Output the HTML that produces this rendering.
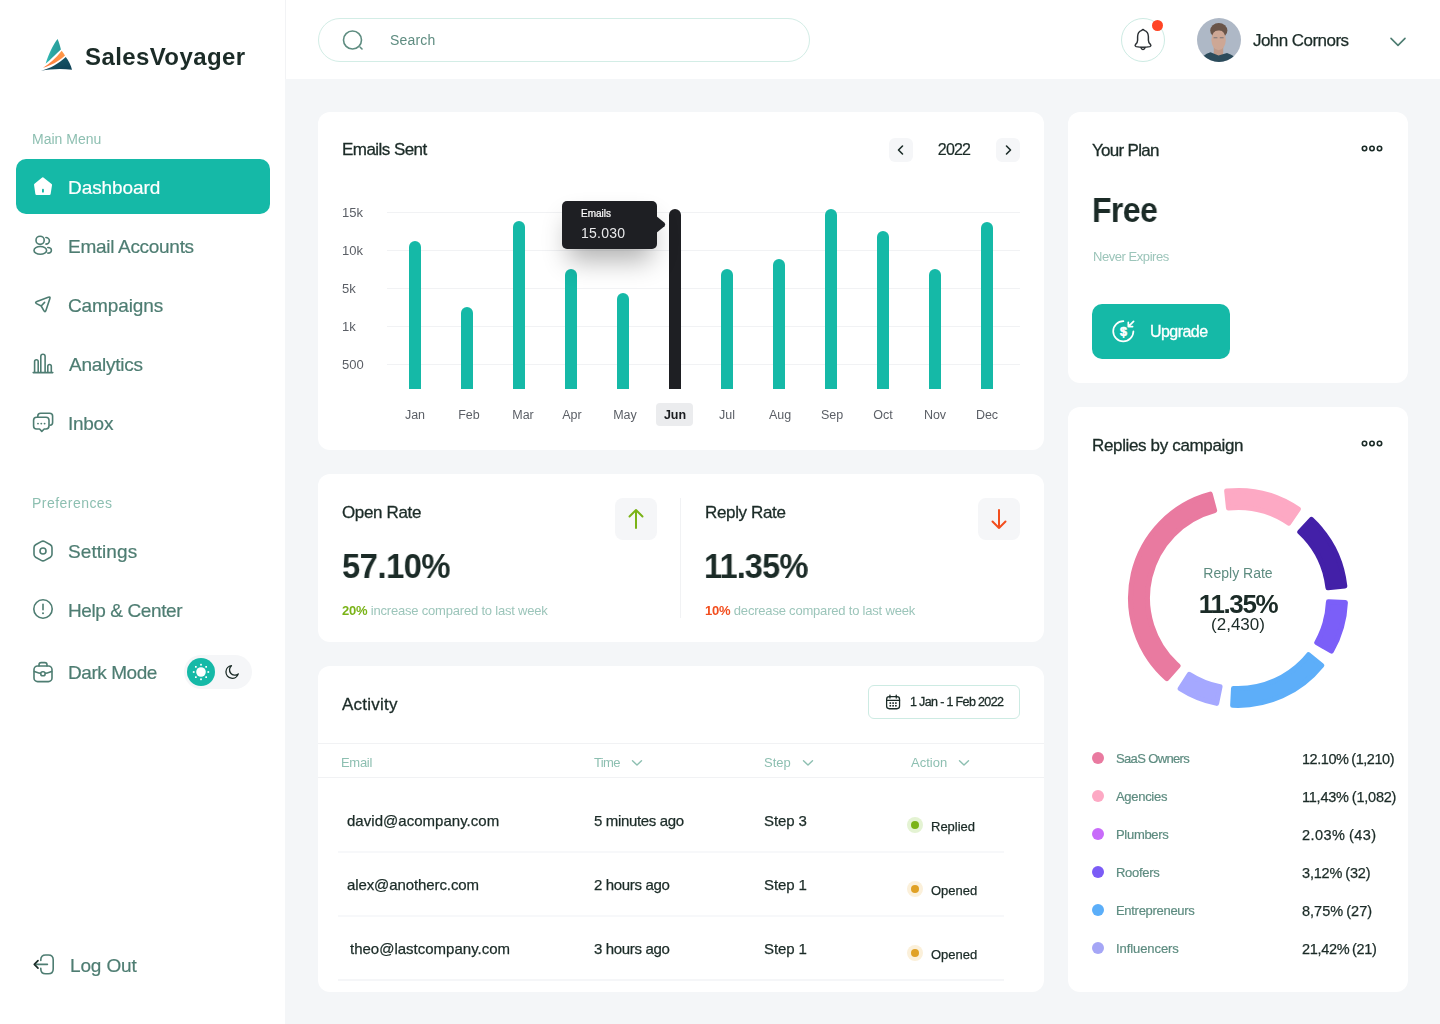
<!DOCTYPE html>
<html><head><meta charset="utf-8">
<style>
*{box-sizing:border-box;margin:0;padding:0}
html,body{width:1440px;height:1024px;overflow:hidden}
.t{will-change:transform}
body{font-family:"Liberation Sans",sans-serif;background:#F4F6F8;position:relative;color:#1B2B27}
.abs{position:absolute}
.sidebar{position:absolute;left:0;top:0;width:285px;height:1024px;background:#fff}
.header{position:absolute;left:285px;top:0;width:1155px;height:79px;background:#fff;border-left:1px solid #F2F3F5}
.card{position:absolute;background:#fff;border-radius:12px}
.t{position:absolute;white-space:nowrap;line-height:1}
.nav{color:#4E7D72;font-size:19px;-webkit-text-stroke:0.2px currentColor}
.axl{color:#5B5F66;font-size:13px}
.axm{color:#5B5F66;font-size:12.5px}
.ttl{font-size:17px;color:#1B2B27;-webkit-text-stroke:0.3px #1B2B27;letter-spacing:-0.35px}
.big{font-size:34.5px;font-weight:bold;color:#1B2B27;letter-spacing:-0.35px}
.sub{font-size:13px;color:#9CC5BA;letter-spacing:-0.2px}
.th{font-size:13px;color:#8DBFB1}
.td{font-size:15px;color:#1B2B27;-webkit-text-stroke:0.25px #1B2B27;letter-spacing:-0.1px}
.td2{font-size:13px;color:#1B2B27;-webkit-text-stroke:0.25px #1B2B27}
.lg{font-size:13px;color:#5E8C80;letter-spacing:-0.3px;-webkit-text-stroke:0.2px #5E8C80}
.lv{font-size:14.5px;letter-spacing:-0.45px;word-spacing:-0.8px;color:#1B2B27;-webkit-text-stroke:0.25px #1B2B27}
.lbl{color:#8DBFB1;font-size:14px}
</style></head>
<body>
<!-- SIDEBAR -->
<div class="sidebar">
  <!-- logo -->
  <svg class="abs" style="left:30px;top:30px" width="50" height="50" viewBox="0 0 50 50">
    <defs>
      <linearGradient id="lg1" x1="0" y1="0" x2="1" y2="0.3"><stop offset="0" stop-color="#3FD3CC"/><stop offset="0.55" stop-color="#2AA6A2"/><stop offset="1" stop-color="#2A9C9A"/></linearGradient>
      <linearGradient id="lg2" x1="0" y1="1" x2="1" y2="0"><stop offset="0" stop-color="#FF7A3D"/><stop offset="1" stop-color="#FF9C4A"/></linearGradient>
      <linearGradient id="lg3" x1="0" y1="0" x2="0.4" y2="1"><stop offset="0" stop-color="#1F7480"/><stop offset="0.45" stop-color="#145062"/><stop offset="1" stop-color="#104458"/></linearGradient>
    </defs>
    <path d="M27.6 9 C23.5 14 19 23 15.6 33.8 C20.5 29.5 26 24 30.9 19.4 C30 15.5 28.8 12 27.6 9 Z" fill="url(#lg1)"/>
    <path d="M13 37.8 C19.5 34 26 28 31.7 20.8 C33 22.5 34.2 24 35 25.6 C28.5 31.5 20.5 36 13 37.8 Z" fill="url(#lg2)"/>
    <path d="M11 40.8 C20 38.5 29 33.5 35.8 27 C38.8 31 41 35.5 42 39.8 C32 38.2 20.5 38.8 11 40.8 Z" fill="url(#lg3)"/>
  </svg>
  <div class="t" style="left:85px;top:45px;font-size:24px;font-weight:bold;color:#1B2B27;letter-spacing:0.4px">SalesVoyager</div>

  <div class="t lbl" style="left:32px;top:132px">Main Menu</div>
  <div class="abs" style="left:16px;top:159px;width:254px;height:55px;background:#15B9A7;border-radius:10px"></div>
  <div class="t nav" style="left:68px;top:178px;color:#fff;letter-spacing:-0.07px">Dashboard</div>
  <div class="t nav" style="left:68px;top:237px;letter-spacing:-0.29px">Email Accounts</div>
  <div class="t nav" style="left:68px;top:296px;letter-spacing:-0.12px">Campaigns</div>
  <div class="t nav" style="left:68.8px;top:355px;letter-spacing:-0.26px">Analytics</div>
  <div class="t nav" style="left:68px;top:414px;letter-spacing:-0.27px">Inbox</div>

  <div class="t lbl" style="left:32px;top:496px;letter-spacing:0.46px">Preferences</div>
  <div class="t nav" style="left:68px;top:542px;letter-spacing:0.07px">Settings</div>
  <div class="t nav" style="left:68px;top:601px;letter-spacing:-0.4px">Help &amp; Center</div>
  <div class="t nav" style="left:68px;top:663px;letter-spacing:-0.44px">Dark Mode</div>
  <div class="t nav" style="left:70px;top:956px;letter-spacing:-0.15px">Log Out</div>
<svg class="abs" style="left:32px;top:176px" width="22" height="22" viewBox="0 0 22 22"><path d="M10.95 2.6 L3.3 8.7 L4.6 17.7 H17.4 L18.8 8.9 Z" fill="#fff" stroke="#fff" stroke-width="2.5" stroke-linejoin="round"/><rect x="10" y="12.8" width="1.9" height="3.8" rx="0.9" fill="#15B9A7"/></svg>
<svg class="abs" style="left:32px;top:234px" width="22" height="22" viewBox="0 0 22 22"><circle cx="8.1" cy="6.3" r="4.1" fill="none" stroke="#4E7D72" stroke-width="1.6" stroke-linecap="round" stroke-linejoin="round"/><ellipse cx="8.3" cy="16.4" rx="6.3" ry="3.9" fill="none" stroke="#4E7D72" stroke-width="1.6" stroke-linecap="round" stroke-linejoin="round"/><path d="M13.9 3.5 A3.5 3.3 0 0 1 13.9 10.1" fill="none" stroke="#4E7D72" stroke-width="1.6" stroke-linecap="round" stroke-linejoin="round"/><path d="M15.8 13.5 A3.6 2.8 0 0 1 15.8 19.1" fill="none" stroke="#4E7D72" stroke-width="1.6" stroke-linecap="round" stroke-linejoin="round"/></svg>
<svg class="abs" style="left:32px;top:293px" width="22" height="22" viewBox="0 0 22 22"><path d="M4.9 8.5 L16.3 4.3 Q18.6 3.5 17.9 5.6 L14 17.3 Q13.1 19.9 11.7 17.4 L9.2 13.0 L4.5 10.6 Q2.6 9.4 4.9 8.5 Z M9.2 13.0 L12.6 9.4" fill="none" stroke="#4E7D72" stroke-width="1.6" stroke-linecap="round" stroke-linejoin="round"/></svg>
<svg class="abs" style="left:32px;top:352px" width="22" height="22" viewBox="0 0 22 22"><path d="M1.2 20.6 H20.8 M2.6 20.6 V9.60 A1.80 1.80 0 0 1 6.2 9.60 V20.6 M8.8 20.6 V4.35 A2.15 2.15 0 0 1 13.1 4.35 V20.6 M15.8 20.6 V14.25 A1.75 1.75 0 0 1 19.3 14.25 V20.6 " fill="none" stroke="#4E7D72" stroke-width="1.6" stroke-linecap="round" stroke-linejoin="round"/></svg>
<svg class="abs" style="left:32px;top:411px" width="22" height="22" viewBox="0 0 22 22"><path d="M5.8 6.2 V5 Q5.8 2.2 8.6 2.2 H17.6 Q20.6 2.2 20.6 5 V11.4 Q20.6 14 18 14.2" fill="none" stroke="#4E7D72" stroke-width="1.6" stroke-linecap="round" stroke-linejoin="round"/><path d="M4.6 6.2 H14 Q17 6.2 17 9.2 V14.8 Q17 18 14 18 H12.2 L9.8 20.4 L7.6 18 H4.6 Q1.6 18 1.6 15 V9.2 Q1.6 6.2 4.6 6.2 Z" fill="none" stroke="#4E7D72" stroke-width="1.6" stroke-linecap="round" stroke-linejoin="round"/><g fill="#4E7D72"><circle cx="6" cy="12.6" r="0.95"/><circle cx="9.3" cy="12.6" r="0.95"/><circle cx="12.6" cy="12.6" r="0.95"/></g></svg>
<svg class="abs" style="left:32px;top:540px" width="22" height="22" viewBox="0 0 22 22"><path d="M9.2 1.6 Q11 0.6 12.8 1.6 L18.4 4.8 Q20 5.8 20 7.8 V14.2 Q20 16.2 18.4 17.2 L12.8 20.4 Q11 21.4 9.2 20.4 L3.6 17.2 Q2 16.2 2 14.2 V7.8 Q2 5.8 3.6 4.8 Z" fill="none" stroke="#4E7D72" stroke-width="1.6" stroke-linecap="round" stroke-linejoin="round"/><circle cx="11" cy="11" r="3" fill="none" stroke="#4E7D72" stroke-width="1.6" stroke-linecap="round" stroke-linejoin="round"/></svg>
<svg class="abs" style="left:32px;top:598px" width="22" height="22" viewBox="0 0 22 22"><circle cx="11" cy="11" r="9.2" fill="none" stroke="#4E7D72" stroke-width="1.6" stroke-linecap="round" stroke-linejoin="round"/><path d="M11 6.4 V11.8" fill="none" stroke="#4E7D72" stroke-width="1.6" stroke-linecap="round" stroke-linejoin="round"/><circle cx="11" cy="15.2" r="1" fill="#4E7D72"/></svg>
<svg class="abs" style="left:32px;top:661px" width="22" height="22" viewBox="0 0 22 22"><path d="M7 5 V3.8 Q7 1.6 9.2 1.6 H12.8 Q15 1.6 15 3.8 V5" fill="none" stroke="#4E7D72" stroke-width="1.6" stroke-linecap="round" stroke-linejoin="round"/><rect x="2" y="5" width="18" height="15.6" rx="3.6" fill="none" stroke="#4E7D72" stroke-width="1.6" stroke-linecap="round" stroke-linejoin="round"/><path d="M2.4 10.6 Q11 14.6 19.6 10.6" fill="none" stroke="#4E7D72" stroke-width="1.6" stroke-linecap="round" stroke-linejoin="round"/><rect x="8.8" y="10.7" width="4.3" height="4.1" rx="1.9" fill="#fff" stroke="#4E7D72" stroke-width="1.6" stroke-linecap="round" stroke-linejoin="round"/></svg>
<div class="abs" style="left:184px;top:655px;width:68px;height:34px;border-radius:17px;background:#F5F6F8"></div>
<div class="abs" style="left:187px;top:658px;width:28px;height:28px;border-radius:50%;background:#15B9A7"></div>
<svg class="abs" style="left:187px;top:658px" width="28" height="28" viewBox="0 0 28 28"><circle cx="14" cy="14" r="4.8" fill="#fff"/><rect x="20.45" y="13.15" width="1.7" height="1.7" fill="#fff"/><rect x="18.31" y="18.31" width="1.7" height="1.7" fill="#fff"/><rect x="13.15" y="20.45" width="1.7" height="1.7" fill="#fff"/><rect x="7.99" y="18.31" width="1.7" height="1.7" fill="#fff"/><rect x="5.85" y="13.15" width="1.7" height="1.7" fill="#fff"/><rect x="7.99" y="7.99" width="1.7" height="1.7" fill="#fff"/><rect x="13.15" y="5.85" width="1.7" height="1.7" fill="#fff"/><rect x="18.31" y="7.99" width="1.7" height="1.7" fill="#fff"/></svg>
<svg class="abs" style="left:222.5px;top:663px" width="17.6" height="17.6" viewBox="0 0 20 20"><path d="M9.6 3 A7.2 7.2 0 1 0 17.4 12.4 A5.8 5.8 0 0 1 9.6 3 Z" fill="none" stroke="#1B2B27" stroke-width="1.5" stroke-linejoin="round"/></svg>
<svg class="abs" style="left:32px;top:953px" width="23" height="23" viewBox="0 0 23 23"><path d="M8.8 7.4 V6.8 Q8.8 2 13.6 2 H16.4 Q21.2 2 21.2 6.8 V16 Q21.2 20.8 16.4 20.8 H13.6 Q8.8 20.8 8.8 16 V15.4" fill="none" stroke="#4E7D72" stroke-width="1.6" stroke-linecap="round" stroke-linejoin="round"/><path d="M4.2 11.4 H15.4" fill="none" stroke="#4E7D72" stroke-width="1.6" stroke-linecap="round" stroke-linejoin="round"/><path d="M6 7.7 L2.3 11.4 L6 15.1" fill="none" stroke="#1B2B27" stroke-width="1.7" stroke-linecap="round" stroke-linejoin="round"/></svg>
</div>

<!-- HEADER -->
<div class="header"></div>
<div class="abs" style="left:318px;top:18px;width:492px;height:44px;border:1px solid #D3EDE6;border-radius:22px;background:#fff"></div>
<div class="t" style="left:390px;top:33px;font-size:14px;color:#5E8C80;letter-spacing:0.2px">Search</div>
<div class="abs" style="left:1121px;top:18px;width:44px;height:44px;border:1px solid #CDEBE3;border-radius:50%;background:#fff"></div>
<div class="abs" style="left:1152px;top:20px;width:11px;height:11px;border-radius:50%;background:#FF4424"></div>
<svg class="abs" style="left:1197px;top:18px" width="44" height="44" viewBox="0 0 44 44"><defs><clipPath id="avc"><circle cx="22" cy="22" r="22"/></clipPath></defs><g clip-path="url(#avc)"><rect width="44" height="44" fill="#AEB8C6"/><rect x="16.8" y="28" width="9.4" height="10" fill="#BF9A89"/><path d="M2 46 Q4 37 13.5 34.2 L21.5 37.5 L30 35 Q39 37.5 42 46 Z" fill="#2C4B5B"/><ellipse cx="21.8" cy="12.6" rx="8.6" ry="7.6" fill="#6A5549"/><ellipse cx="21.6" cy="22" rx="7.2" ry="10.2" fill="#CDA795"/><path d="M13.8 15.5 Q14.4 9 21.6 8.6 Q29 8.6 29.8 15.6 Q27.6 12.2 21.6 12.4 Q16.4 12.6 13.8 15.5 Z" fill="#6A5549"/><path d="M17 19.8 H20 M23.2 19.8 H26.2" stroke="#7A7475" stroke-width="1.1" stroke-linecap="round"/></g></svg>
<div class="t" style="left:1253px;top:32px;font-size:17px;color:#1B2B27;letter-spacing:-0.55px;-webkit-text-stroke:0.25px #1B2B27">John Cornors</div>
<svg class="abs" style="left:340px;top:29px" width="26" height="24" viewBox="0 0 26 24"><circle cx="12.5" cy="11" r="9" fill="none" stroke="#5E8C80" stroke-width="1.6"/><path d="M20.2 18.2 L22 20" stroke="#5E8C80" stroke-width="1.6" stroke-linecap="round"/></svg>
<svg class="abs" style="left:1131px;top:27px" width="24" height="26" viewBox="0 0 24 26"><path d="M12 2.4 Q11.4 2.4 10.8 3.4 Q6.6 4.8 6.6 9.8 V13.2 Q6.6 15.6 4.6 17.4 Q3.4 18.8 5.2 19.6 Q12 20.8 18.8 19.6 Q20.6 18.8 19.4 17.4 Q17.4 15.6 17.4 13.2 V9.8 Q17.4 4.8 13.2 3.4 Q12.6 2.4 12 2.4 Z" fill="none" stroke="#2A2F33" stroke-width="1.45" stroke-linejoin="round"/><path d="M9.9 20.6 Q12 24.6 14.1 20.6" fill="none" stroke="#2A2F33" stroke-width="1.45" stroke-linecap="round"/></svg>
<svg class="abs" style="left:1388px;top:34px" width="20" height="16" viewBox="0 0 20 16"><path d="M3 4.4 L10 11.4 L17 4.4" fill="none" stroke="#4E7D72" stroke-width="1.6" stroke-linecap="round" stroke-linejoin="round"/></svg>

<!-- EMAILS SENT -->
<div class="card" style="left:318px;top:112px;width:726px;height:338px"></div>
<div class="t ttl" style="left:342px;top:141px;letter-spacing:-0.55px">Emails Sent</div>
<div class="abs" style="left:889px;top:138px;width:24px;height:24px;background:#F5F6F8;border-radius:6px"></div>
<svg class="abs" style="left:889px;top:138px" width="24" height="24" viewBox="0 0 24 24"><path d="M13.5 8 L9.5 12 L13.5 16" fill="none" stroke="#1B2B27" stroke-width="1.6" stroke-linecap="round" stroke-linejoin="round"/></svg>
<div class="t" style="left:924px;top:142px;width:60px;text-align:center;font-size:16px;color:#1B2B27;letter-spacing:-0.8px;-webkit-text-stroke:0.2px #1B2B27">2022</div>
<div class="abs" style="left:996px;top:138px;width:24px;height:24px;background:#F5F6F8;border-radius:6px"></div>
<svg class="abs" style="left:996px;top:138px" width="24" height="24" viewBox="0 0 24 24"><path d="M10.5 8 L14.5 12 L10.5 16" fill="none" stroke="#1B2B27" stroke-width="1.6" stroke-linecap="round" stroke-linejoin="round"/></svg>
<div class="abs" style="left:387px;top:212px;width:633px;height:1px;background:#F1F2F4"></div>
<div class="t axl" style="left:342px;top:206px">15k</div>
<div class="abs" style="left:387px;top:250px;width:633px;height:1px;background:#F1F2F4"></div>
<div class="t axl" style="left:342px;top:244px">10k</div>
<div class="abs" style="left:387px;top:288px;width:633px;height:1px;background:#F1F2F4"></div>
<div class="t axl" style="left:342px;top:282px">5k</div>
<div class="abs" style="left:387px;top:326px;width:633px;height:1px;background:#F1F2F4"></div>
<div class="t axl" style="left:342px;top:320px">1k</div>
<div class="abs" style="left:387px;top:364px;width:633px;height:1px;background:#F1F2F4"></div>
<div class="t axl" style="left:342px;top:358px">500</div>
<div class="abs" style="left:409px;top:241px;width:12px;height:148px;background:#15B9A7;border-radius:6px 6px 0 0"></div>
<div class="t axm" style="left:385px;width:60px;text-align:center;top:409px">Jan</div>
<div class="abs" style="left:461px;top:307px;width:12px;height:82px;background:#15B9A7;border-radius:6px 6px 0 0"></div>
<div class="t axm" style="left:439px;width:60px;text-align:center;top:409px">Feb</div>
<div class="abs" style="left:513px;top:221px;width:12px;height:168px;background:#15B9A7;border-radius:6px 6px 0 0"></div>
<div class="t axm" style="left:492.5px;width:60px;text-align:center;top:409px">Mar</div>
<div class="abs" style="left:565px;top:269px;width:12px;height:120px;background:#15B9A7;border-radius:6px 6px 0 0"></div>
<div class="t axm" style="left:542px;width:60px;text-align:center;top:409px">Apr</div>
<div class="abs" style="left:617px;top:293px;width:12px;height:96px;background:#15B9A7;border-radius:6px 6px 0 0"></div>
<div class="t axm" style="left:595px;width:60px;text-align:center;top:409px">May</div>
<div class="abs" style="left:669px;top:209px;width:12px;height:180px;background:#1E1F23;border-radius:6px 6px 0 0"></div>
<div class="abs" style="left:656px;top:403px;width:37px;height:23px;background:#EBECEE;border-radius:4px"></div>
<div class="t axm" style="left:645px;width:60px;text-align:center;top:409px;color:#1B1D20;font-weight:bold">Jun</div>
<div class="abs" style="left:721px;top:269px;width:12px;height:120px;background:#15B9A7;border-radius:6px 6px 0 0"></div>
<div class="t axm" style="left:696.7px;width:60px;text-align:center;top:409px">Jul</div>
<div class="abs" style="left:773px;top:259px;width:12px;height:130px;background:#15B9A7;border-radius:6px 6px 0 0"></div>
<div class="t axm" style="left:749.8px;width:60px;text-align:center;top:409px">Aug</div>
<div class="abs" style="left:825px;top:209px;width:12px;height:180px;background:#15B9A7;border-radius:6px 6px 0 0"></div>
<div class="t axm" style="left:801.9px;width:60px;text-align:center;top:409px">Sep</div>
<div class="abs" style="left:877px;top:231px;width:12px;height:158px;background:#15B9A7;border-radius:6px 6px 0 0"></div>
<div class="t axm" style="left:853.4px;width:60px;text-align:center;top:409px">Oct</div>
<div class="abs" style="left:929px;top:269px;width:12px;height:120px;background:#15B9A7;border-radius:6px 6px 0 0"></div>
<div class="t axm" style="left:905px;width:60px;text-align:center;top:409px">Nov</div>
<div class="abs" style="left:981px;top:222px;width:12px;height:167px;background:#15B9A7;border-radius:6px 6px 0 0"></div>
<div class="t axm" style="left:957px;width:60px;text-align:center;top:409px">Dec</div>
<div class="abs" style="left:568px;top:205px;width:84px;height:42px;box-shadow:0 14px 26px rgba(0,0,0,0.30);border-radius:6px"></div>
<div class="abs" style="left:562px;top:201px;width:95px;height:48px;background:#1E1F23;border-radius:5px"></div>
<svg class="abs" style="left:655px;top:215px" width="12" height="19" viewBox="0 0 12 19"><path d="M0 0 L9.5 7.8 Q11 9.5 9.5 11.2 L0 19 Z" fill="#1E1F23"/></svg>
<div class="t" style="left:581px;top:209px;font-size:10px;color:#fff;-webkit-text-stroke:0.2px #fff">Emails</div>
<div class="t" style="left:581px;top:226px;font-size:14px;color:#E8E8EA;letter-spacing:0.25px">15.030</div>


<!-- OPEN / REPLY -->
<div class="card" style="left:318px;top:474px;width:726px;height:168px"></div>
<div class="t ttl" style="left:342px;top:504px">Open Rate</div>
<div class="abs" style="left:615px;top:498px;width:42px;height:42px;background:#F5F6F8;border-radius:8px"></div>
<svg class="abs" style="left:615px;top:498px" width="42" height="42" viewBox="0 0 42 42"><path d="M21 30 V12 M14.5 18.5 L21 12 L27.5 18.5" fill="none" stroke="#7AB317" stroke-width="2" stroke-linecap="round" stroke-linejoin="round"/></svg>
<div class="t big" style="left:342px;top:549px;letter-spacing:-0.6px;transform:scaleX(0.952);transform-origin:0 0">57.10%</div>
<div class="t sub" style="left:342px;top:604px"><span style="color:#7AB317;font-weight:bold">20%</span> increase compared to last week</div>
<div class="abs" style="left:680px;top:498px;width:1px;height:120px;background:#F1F2F4"></div>
<div class="t ttl" style="left:705px;top:504px">Reply Rate</div>
<div class="abs" style="left:978px;top:498px;width:42px;height:42px;background:#F5F6F8;border-radius:8px"></div>
<svg class="abs" style="left:978px;top:498px" width="42" height="42" viewBox="0 0 42 42"><path d="M21 12 V30 M14.5 23.5 L21 30 L27.5 23.5" fill="none" stroke="#F24E1E" stroke-width="2" stroke-linecap="round" stroke-linejoin="round"/></svg>
<div class="t big" style="left:704px;top:549px;letter-spacing:-0.9px;transform:scaleX(0.942);transform-origin:0 0">11.35%</div>
<div class="t sub" style="left:705px;top:604px"><span style="color:#F24E1E;font-weight:bold">10%</span> decrease compared to last week</div>

<!-- ACTIVITY -->
<div class="card" style="left:318px;top:666px;width:726px;height:326px"></div>
<div class="t ttl" style="left:342px;top:696px;letter-spacing:0.25px">Activity</div>
<div class="abs" style="left:868px;top:685px;width:152px;height:34px;border:1px solid #CDEBE3;border-radius:6px"></div>
<svg class="abs" style="left:885px;top:693.5px" width="16.2" height="16.2" viewBox="0 0 18 18"><rect x="1.8" y="3" width="14.4" height="13.4" rx="3" fill="none" stroke="#1B2B27" stroke-width="1.4"/><path d="M1.8 7 H16.2 M5.5 1.2 V4.5 M12.5 1.2 V4.5" stroke="#1B2B27" stroke-width="1.4" stroke-linecap="round"/><g fill="#1B2B27"><rect x="5" y="9.2" width="1.8" height="1.8"/><rect x="8.1" y="9.2" width="1.8" height="1.8"/><rect x="11.2" y="9.2" width="1.8" height="1.8"/><rect x="5" y="12.2" width="1.8" height="1.8"/><rect x="8.1" y="12.2" width="1.8" height="1.8"/><rect x="11.2" y="12.2" width="1.8" height="1.8"/></g></svg>
<div class="t" style="left:910px;top:696px;font-size:12.5px;color:#1B2B27;letter-spacing:-0.65px;-webkit-text-stroke:0.3px #1B2B27">1 Jan - 1 Feb 2022</div>
<div class="abs" style="left:318px;top:743px;width:726px;height:1px;background:#F1F2F4"></div>
<div class="abs" style="left:318px;top:777px;width:726px;height:1px;background:#F1F2F4"></div>
<div class="t th" style="left:341px;top:756px;letter-spacing:-0.3px">Email</div>
<div class="t th" style="left:594px;top:756px;letter-spacing:-0.67px">Time</div><svg class="abs" style="left:631px;top:759px" width="12" height="8" viewBox="0 0 12 8"><path d="M1.5 1.8 L6 6 L10.5 1.8" fill="none" stroke="#8DBFB1" stroke-width="1.4" stroke-linecap="round" stroke-linejoin="round"/></svg>
<div class="t th" style="left:764px;top:756px">Step</div><svg class="abs" style="left:802px;top:759px" width="12" height="8" viewBox="0 0 12 8"><path d="M1.5 1.8 L6 6 L10.5 1.8" fill="none" stroke="#8DBFB1" stroke-width="1.4" stroke-linecap="round" stroke-linejoin="round"/></svg>
<div class="t th" style="left:911px;top:756px">Action</div><svg class="abs" style="left:958px;top:759px" width="12" height="8" viewBox="0 0 12 8"><path d="M1.5 1.8 L6 6 L10.5 1.8" fill="none" stroke="#8DBFB1" stroke-width="1.4" stroke-linecap="round" stroke-linejoin="round"/></svg>
<div class="t td" style="left:347.4px;top:813px;letter-spacing:0.03px">david@acompany.com</div>
<div class="t td" style="left:594px;top:813px;letter-spacing:-0.35px">5 minutes ago</div>
<div class="t td" style="left:764px;top:813px">Step 3</div>
<div class="abs" style="left:907px;top:817px;width:16px;height:16px;border-radius:50%;background:#E4F3D3"></div>
<div class="abs" style="left:911px;top:821px;width:8px;height:8px;border-radius:50%;background:#7AB317"></div>
<div class="t td2" style="left:931px;top:820px">Replied</div>
<div class="abs" style="left:338px;top:851px;width:666px;height:2px;background:#F7F8FA"></div>
<div class="t td" style="left:347px;top:877px">alex@anotherc.com</div>
<div class="t td" style="left:594px;top:877px;letter-spacing:-0.35px">2 hours ago</div>
<div class="t td" style="left:764px;top:877px">Step 1</div>
<div class="abs" style="left:907px;top:881px;width:16px;height:16px;border-radius:50%;background:#FBF0DA"></div>
<div class="abs" style="left:911px;top:885px;width:8px;height:8px;border-radius:50%;background:#E0A125"></div>
<div class="t td2" style="left:931px;top:884px">Opened</div>
<div class="abs" style="left:338px;top:915px;width:666px;height:2px;background:#F7F8FA"></div>
<div class="t td" style="left:349.8px;top:941px;letter-spacing:0px">theo@lastcompany.com</div>
<div class="t td" style="left:594px;top:941px;letter-spacing:-0.35px">3 hours ago</div>
<div class="t td" style="left:764px;top:941px">Step 1</div>
<div class="abs" style="left:907px;top:945px;width:16px;height:16px;border-radius:50%;background:#FBF0DA"></div>
<div class="abs" style="left:911px;top:949px;width:8px;height:8px;border-radius:50%;background:#E0A125"></div>
<div class="t td2" style="left:931px;top:948px">Opened</div>
<div class="abs" style="left:338px;top:979px;width:666px;height:2px;background:#F5F6F8"></div>

<!-- YOUR PLAN -->
<div class="card" style="left:1068px;top:112px;width:340px;height:271px"></div>
<div class="t ttl" style="left:1092px;top:142px;letter-spacing:-0.7px">Your Plan</div>
<svg class="abs" style="left:1360px;top:144px" width="24" height="9" viewBox="0 0 24 9"><g fill="none" stroke="#1B2B27" stroke-width="1.6"><circle cx="4.5" cy="4.5" r="2.2"/><circle cx="12" cy="4.5" r="2.2"/><circle cx="19.5" cy="4.5" r="2.2"/></g></svg>
<div class="t" style="left:1091.8px;top:193px;font-size:34.7px;font-weight:bold;color:#1B2B27;letter-spacing:-0.6px;transform:scaleX(0.92);transform-origin:0 0">Free</div>
<div class="t sub" style="left:1093px;top:250px;letter-spacing:-0.45px">Never Expires</div>
<div class="abs" style="left:1092px;top:304px;width:138px;height:55px;background:#15B9A7;border-radius:10px"></div>
<svg class="abs" style="left:1100px;top:310px" width="50" height="40" viewBox="0 0 50 40"><path d="M33.4 21.3 A10.1 10.1 0 1 1 23.4 11.2" fill="none" stroke="#fff" stroke-width="1.7" stroke-linecap="round"/><path d="M33.6 11.3 L28.3 16.6 M28.3 12.3 V16.6 H32.6" fill="none" stroke="#fff" stroke-width="1.7" stroke-linecap="round" stroke-linejoin="round"/><text x="23.5" y="25.8" font-size="12.5" font-weight="bold" fill="#fff" stroke="#fff" stroke-width="0.6" text-anchor="middle" font-family="Liberation Sans">$</text></svg>
<div class="t" style="left:1150px;top:324px;font-size:16px;color:#fff;letter-spacing:-0.55px;-webkit-text-stroke:0.3px #fff">Upgrade</div>

<!-- REPLIES -->
<div class="card" style="left:1068px;top:407px;width:340px;height:585px"></div>
<div class="t ttl" style="left:1092px;top:437px">Replies by campaign</div>
<svg class="abs" style="left:1360px;top:439px" width="24" height="9" viewBox="0 0 24 9"><g fill="none" stroke="#1B2B27" stroke-width="1.6"><circle cx="4.5" cy="4.5" r="2.2"/><circle cx="12" cy="4.5" r="2.2"/><circle cx="19.5" cy="4.5" r="2.2"/></g></svg>
<svg class="abs" style="left:1068px;top:406px" width="340" height="586"><path d="M158.66 85.10 A107.5 107.5 0 0 1 230.35 103.04 L220.81 117.11 A90.5 90.5 0 0 0 160.46 102.00 Z" fill="#FDA9C4" stroke="#FDA9C4" stroke-width="5.0" stroke-linejoin="round"/><path d="M243.38 113.44 A107.5 107.5 0 0 1 276.82 179.93 L259.93 181.84 A90.5 90.5 0 0 0 231.77 125.86 Z" fill="#4320A8" stroke="#4320A8" stroke-width="5.0" stroke-linejoin="round"/><path d="M277.40 196.59 A107.5 107.5 0 0 1 263.51 245.02 L248.73 236.64 A90.5 90.5 0 0 0 260.42 195.86 Z" fill="#7B5FF8" stroke="#7B5FF8" stroke-width="5.0" stroke-linejoin="round"/><path d="M253.72 259.43 A107.5 107.5 0 0 1 164.65 299.37 L165.50 282.39 A90.5 90.5 0 0 0 240.48 248.77 Z" fill="#5DAEF9" stroke="#5DAEF9" stroke-width="5.0" stroke-linejoin="round"/><path d="M148.67 297.36 A107.5 107.5 0 0 1 112.16 282.61 L121.30 268.28 A90.5 90.5 0 0 0 152.04 280.70 Z" fill="#A5A8FF" stroke="#A5A8FF" stroke-width="5.0" stroke-linejoin="round"/><path d="M98.84 272.58 A107.5 107.5 0 0 1 142.27 88.14 L146.66 104.56 A90.5 90.5 0 0 0 110.10 259.84 Z" fill="#E97AA0" stroke="#E97AA0" stroke-width="5.0" stroke-linejoin="round"/></svg>
<div class="t" style="left:1138px;width:200px;text-align:center;top:566px;font-size:14px;color:#5E8C80">Reply Rate</div>
<div class="t" style="left:1138px;width:200px;text-align:center;top:591px;font-size:26px;font-weight:bold;color:#1B2B27;letter-spacing:-1.4px">11.35%</div>
<div class="t" style="left:1138px;width:200px;text-align:center;top:616px;font-size:17px;color:#1B2B27">(2,430)</div>
<div class="abs" style="left:1092px;top:752px;width:12px;height:12px;border-radius:50%;background:#E97AA0"></div>
<div class="t lg" style="left:1116.4px;top:752px;letter-spacing:-0.64px">SaaS Owners</div>
<div class="t lv" style="left:1302px;top:752px">12.10% (1,210)</div>
<div class="abs" style="left:1092px;top:790px;width:12px;height:12px;border-radius:50%;background:#FDA9C4"></div>
<div class="t lg" style="left:1116px;top:790px">Agencies</div>
<div class="t lv" style="left:1302px;top:790px;letter-spacing:-0.22px">11,43% (1,082)</div>
<div class="abs" style="left:1092px;top:828px;width:12px;height:12px;border-radius:50%;background:#C86BFA"></div>
<div class="t lg" style="left:1116px;top:828px">Plumbers</div>
<div class="t lv" style="left:1302px;top:828px;letter-spacing:0.44px">2.03% (43)</div>
<div class="abs" style="left:1092px;top:866px;width:12px;height:12px;border-radius:50%;background:#7B5CF6"></div>
<div class="t lg" style="left:1116px;top:866px">Roofers</div>
<div class="t lv" style="left:1302px;top:866px;letter-spacing:-0.18px">3,12% (32)</div>
<div class="abs" style="left:1092px;top:904px;width:12px;height:12px;border-radius:50%;background:#5BAEF9"></div>
<div class="t lg" style="left:1116px;top:904px">Entrepreneurs</div>
<div class="t lv" style="left:1302px;top:904px;letter-spacing:-0.01px">8,75% (27)</div>
<div class="abs" style="left:1092px;top:942px;width:12px;height:12px;border-radius:50%;background:#A5A6F6"></div>
<div class="t lg" style="left:1116px;top:942px;letter-spacing:-0.08px">Influencers</div>
<div class="t lv" style="left:1302px;top:942px;letter-spacing:-0.33px">21,42% (21)</div>

</body></html>
